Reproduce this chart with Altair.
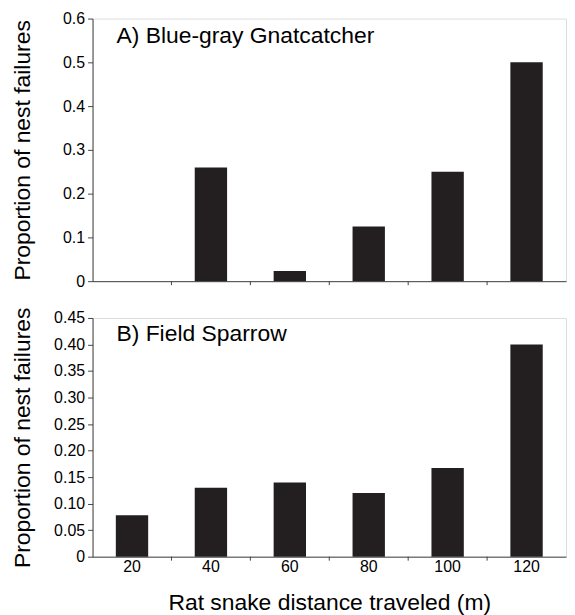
import altair as alt
import pandas as pd

distances = [20, 40, 60, 80, 100, 120]
gnatcatcher = [0.0, 0.26, 0.023, 0.125, 0.25, 0.50]
sparrow = [0.078, 0.13, 0.14, 0.12, 0.167, 0.40]
ticks_a = [0, 0.1, 0.2, 0.3, 0.4, 0.5, 0.6]
ticks_b = [0, 0.05, 0.10, 0.15, 0.20, 0.25, 0.30, 0.35, 0.40, 0.45]
panel_titles = ["A) Blue-gray Gnatcatcher", "B) Field Sparrow"]
y_title = "Proportion of nest failures"
x_title = "Rat snake distance traveled (m)"

FONT = "Liberation Sans"
W = 476
AX = "#444444"
BAR = "#231f20"


def panel(values, title, ticks, fmt, height, bottom, title_y):
    df = pd.DataFrame({"dist": distances, "prop": values, "t": title})
    if bottom:
        xaxis = alt.Axis(title=x_title, labels=True, ticks=False, labelPadding=2,
                         labelFontSize=16, labelFont=FONT, labelColor="black",
                         titleFontSize=23, titleFont=FONT, titleFontWeight="normal",
                         titleColor="black", titlePadding=17, domainColor=AX,
                         labelAngle=0)
    else:
        xaxis = alt.Axis(title=None, labels=False, ticks=False, domainColor=AX)
    x = alt.X("dist:O", axis=xaxis,
              scale=alt.Scale(paddingInner=0, paddingOuter=0))
    y = alt.Y("prop:Q",
              scale=alt.Scale(domain=[ticks[0], ticks[-1]], nice=False),
              axis=alt.Axis(values=ticks, grid=False, tickSize=5, tickColor=AX,
                            domainColor=AX, labelPadding=3, labelFontSize=16,
                            labelFont=FONT, labelColor="black",
                            labelExpr="datum.value == 0 ? '0' : format(datum.value, '%s')" % fmt,
                            title=y_title, titleFont=FONT, titleFontSize=23,
                            titleFontWeight="normal", titleColor="black",
                            titleX=-70, titleY=height / 2, titleAngle=-90,
                            titleAlign="center", titleBaseline="middle"))
    base = alt.Chart(df)
    bars = base.mark_bar(color=BAR, width=alt.RelativeBandSize(0.41)).encode(x=x, y=y)
    tick_rules = base.transform_filter(alt.datum.dist > 20).mark_rule(
        color=AX, strokeWidth=1).encode(
        x=alt.X("dist:O", bandPosition=0),
        y=alt.value(height), y2=alt.value(height + 4))
    label = base.transform_filter(alt.datum.dist == 20).mark_text(
        align="left", baseline="alphabetic", font=FONT, fontSize=23,
        color="black").encode(text="t:N", x=alt.value(24), y=alt.value(title_y))
    return alt.layer(bars, tick_rules, label).properties(width=W, height=height)


top = panel(gnatcatcher, panel_titles[0], ticks_a, ".1f", 264, False, 25)
bot = panel(sparrow, panel_titles[1], ticks_b, ".2f", 240, True, 23)

chart = alt.vconcat(top, bot, spacing=37, bounds="flush").properties(
    padding={"left": 3, "top": 0, "right": 0, "bottom": 0}
).configure_view(stroke=None).configure(background="white")

chart.save("out.html", embed_options={"renderer": "svg", "actions": False})
